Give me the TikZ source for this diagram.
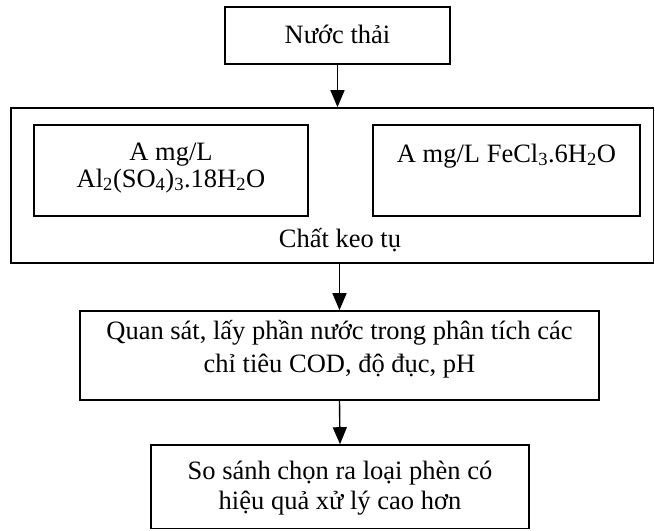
\documentclass[tikz,border=0pt]{standalone}
\usepackage{fontspec}
\setmainfont{Liberation Serif}
\usetikzlibrary{arrows.meta}
\begin{document}
\begin{tikzpicture}[x=1pt,y=-1pt,
  box/.style={draw, line width=1.6pt, inner sep=0pt},
  txt/.style={anchor=base, inner sep=0pt, font=\fontsize{26.5}{30}\selectfont},
  arr/.style={-{Triangle[width=14pt,length=17pt]}, line width=1.4pt}]
\useasboundingbox (0,0) rectangle (655,530);
% boxes
\node[box, minimum width=225pt, minimum height=57pt] (top) at (337.5,35.5) {};
\node[box, minimum width=642.5pt, minimum height=155pt] (big) at (332.25,185.5) {};
\node[box, minimum width=274pt, minimum height=91pt] (left) at (171,170.5) {};
\node[box, minimum width=267pt, minimum height=91pt] (right) at (506.5,170.5) {};
\node[box, minimum width=519pt, minimum height=89pt] (obs) at (339.5,355.5) {};
\node[box, minimum width=378pt, minimum height=83.5pt] (cmp) at (340,486.75) {};
% texts
\node[txt] (t1) at (337.5,43) {Nước thải};
\node[txt] (t2a) at (171,160) {A mg/L};
\node[txt] (t2b) at (171,187) {Al\textsubscript{2}(SO\textsubscript{4})\textsubscript{3}.18H\textsubscript{2}O};
\node[txt] (t3) at (506.5,162) {A mg/L FeCl\textsubscript{3}.6H\textsubscript{2}O};
\node[txt] (t4) at (340,247) {Chất keo tụ};
\node[txt] (t5a) at (339.5,339) {Quan sát, lấy phần nước trong phân tích các};
\node[txt] (t5b) at (339.5,372) {chỉ tiêu COD, độ đục, pH};
\node[txt] (t6a) at (340,479) {So sánh chọn ra loại phèn có};
\node[txt] (t6b) at (340,509) {hiệu quả xử lý cao hơn};
% connectors
\draw[arr] (top.south) -- (top.south |- big.north);
\draw[arr] (big.south -| obs.north) -- (obs.north);
\draw[arr] (obs.south) -- (cmp.north);
\end{tikzpicture}
\end{document}
